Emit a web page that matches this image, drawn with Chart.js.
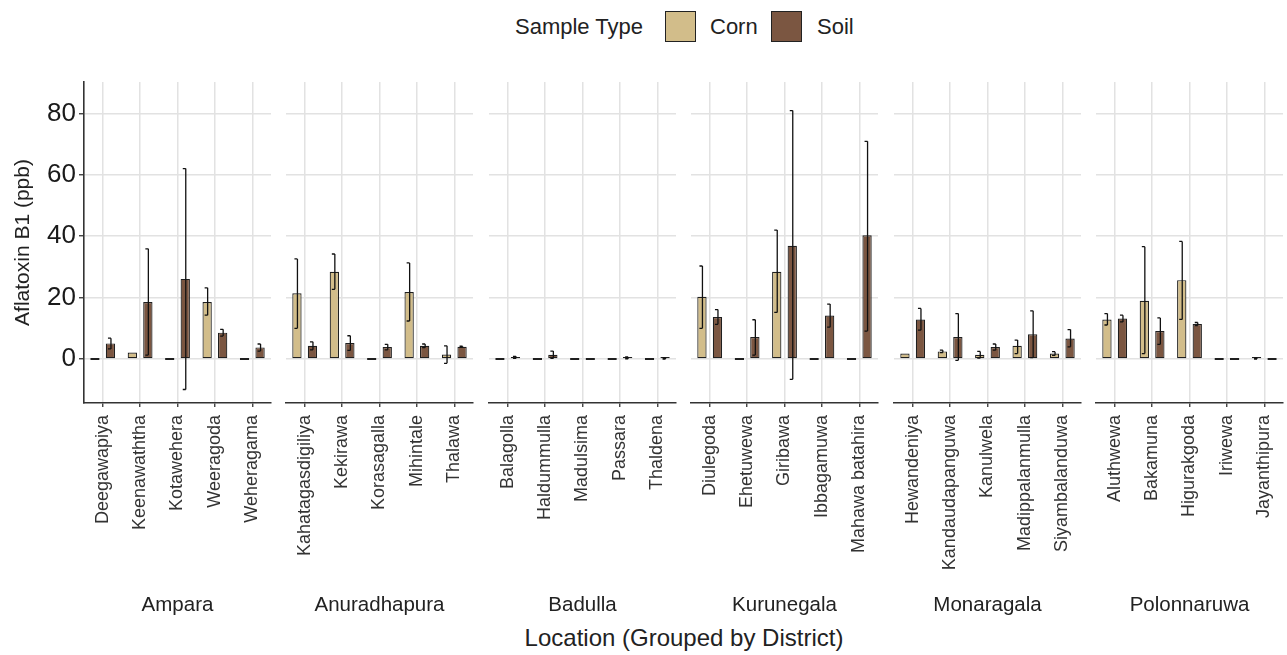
<!DOCTYPE html>
<html>
<head>
<meta charset="utf-8">
<script src="https://cdn.jsdelivr.net/npm/chart.js@4.4.1/dist/chart.umd.min.js"></script>
<style>
  html, body { margin:0; padding:0; background:#fff; }
  body { width:1287px; height:655px; position:relative; overflow:hidden; font-family:"Liberation Sans", Arial, sans-serif; color:#222; }
  .cv { position:absolute; }
  .txt { position:absolute; white-space:nowrap; line-height:1; }
  .box { position:absolute; width:29px; height:29px; border:1.5px solid #222; }
</style>
</head>
<body>
<div class="txt" style="left:515px; top:16px; font-size:22px;">Sample Type</div>
<div class="box" style="left:665px; top:11px; background:#D2BD8A;"></div>
<div class="txt" style="left:710px; top:16px; font-size:22px;">Corn</div>
<div class="box" style="left:771px; top:11px; background:#7B5641;"></div>
<div class="txt" style="left:817px; top:16px; font-size:22px;">Soil</div>
<div class="txt" id="xtitle" style="left:684px; top:626px; font-size:24px; transform:translateX(-50%);">Location (Grouped by District)</div>

<canvas id="c0" class="cv"></canvas>
<canvas id="c1" class="cv"></canvas>
<canvas id="c2" class="cv"></canvas>
<canvas id="c3" class="cv"></canvas>
<canvas id="c4" class="cv"></canvas>
<canvas id="c5" class="cv"></canvas>

<script>
// ---------------- DATA ----------------
const districts = ['Ampara', 'Anuradhapura', 'Badulla', 'Kurunegala', 'Monaragala', 'Polonnaruwa'];
const locations = [
  'Deegawapiya', 'Keenawaththa', 'Kotawehera', 'Weeragoda', 'Weheragama',
  'Kahatagasdigiliya', 'Kekirawa', 'Korasagalla', 'Mihintale', 'Thalawa',
  'Balagolla', 'Haldummulla', 'Madulsima', 'Passara', 'Thaldena',
  'Diulegoda', 'Ehetuwewa', 'Giribawa', 'Ibbagamuwa', 'Mahawa batahira',
  'Hewandeniya', 'Kandaudapanguwa', 'Kanulwela', 'Madippalanmulla', 'Siyambalanduwa',
  'Aluthwewa', 'Bakamuna', 'Higurakgoda', 'Iriwewa', 'Jayanthipura'
];
const cornMean = [0, 2.1, 0, 18.6, 0,  21.4, 28.4, 0, 21.8, 1.5,  0, 0, 0, 0, 0,
  20.3, 0, 28.4, 0, 0,  1.8, 2.5, 1.4, 4.3, 1.8,  12.9, 19.0, 25.7, 0, 0.1];
const cornLow = [null, null, null, 14.3, null,  10.0, 22.7, null, 12.4, -1.4,  null, null, null, null, null,
  10.0, null, 15.2, null, null,  null, 2.1, 0.3, 1.8, 1.2,  11.1, 1.8, 12.9, null, 0];
const cornHigh = [null, null, null, 23.2, null,  32.6, 34.2, null, 31.3, 4.3,  null, null, null, null, null,
  30.3, null, 42.0, null, null,  null, 2.9, 2.5, 6.2, 2.4,  14.8, 36.6, 38.3, null, 0.3];
const soilMean = [5.1, 18.6, 26.1, 8.6, 3.8,  4.3, 5.2, 3.9, 4.3, 4.0,  0.5, 1.4, 0, 0.4, 0.2,
  13.7, 7.2, 36.9, 14.2, 40.3,  12.9, 7.2, 3.9, 8.1, 6.7,  13.2, 9.1, 11.4, 0, 0];
const soilLow = [3.3, 1.3, -9.9, 7.5, 2.6,  3.0, 2.8, 3.0, 3.7, 3.8,  0.2, 0.2, null, 0.1, 0.0,
  11.3, 1.3, -6.6, 10.4, 9.1,  9.4, -0.4, 2.9, 0.5, 4.0,  12.1, 4.8, 10.9, null, null];
const soilHigh = [6.8, 35.9, 62.0, 9.7, 4.9,  5.6, 7.6, 4.8, 4.9, 4.2,  0.9, 2.6, null, 0.7, 0.4,
  16.1, 12.8, 80.9, 17.9, 70.9,  16.5, 14.8, 4.9, 15.7, 9.6,  14.3, 13.4, 11.9, null, null];
const yTicks = [0, 20, 40, 60, 80];
const seriesNames = ['Corn', 'Soil'];

// ---------------- STYLE / LAYOUT ----------------
const FONT = '"Liberation Sans", Arial, sans-serif';
const CORN = '#D2BD8A', SOIL = '#7B5641', EDGE = '#1f1f1f';
const GRID = '#e2e2e2', AXIS = '#333333';
const PANEL_W = 187, PANEL_STEP = 202.4, FIRST_LEFT = 84;
const AREA_TOP = 82, AREA_BOTTOM = 403, CANVAS_TOP = 70, CANVAS_BOTTOM = 625;
const Y_MIN = -14.3, Y_MAX = 90.2;

const errorBars = {
  id: 'errorBars',
  afterDatasetsDraw(chart) {
    const ctx = chart.ctx;
    const y = chart.scales.y;
    ctx.save();
    ctx.strokeStyle = '#111';
    ctx.lineWidth = 1.3;
    chart.data.datasets.forEach((ds, di) => {
      const meta = chart.getDatasetMeta(di);
      meta.data.forEach((el, i) => {
        const lo = ds.errLow[i], hi = ds.errHigh[i];
        if (lo === null || hi === null) return;
        const x = el.x + 0.5;
        const y1 = y.getPixelForValue(lo), y2 = y.getPixelForValue(hi);
        ctx.beginPath();
        ctx.moveTo(x, y1); ctx.lineTo(x, y2);
        ctx.moveTo(x - 3, y1); ctx.lineTo(x, y1);
        ctx.moveTo(x - 3, y2); ctx.lineTo(x, y2);
        ctx.stroke();
      });
    });
    ctx.restore();
  }
};

districts.forEach((d, p) => {
  const idx0 = p * 5;
  const labels = locations.slice(idx0, idx0 + 5);
  const first = p === 0;
  const panelLeft = FIRST_LEFT + p * PANEL_STEP;
  const yW = first ? FIRST_LEFT : 0;
  const padL = first ? 0 : 3, padR = 3;
  const cvLeft = first ? 0 : panelLeft - padL;
  const cvW = (first ? FIRST_LEFT : padL) + PANEL_W + padR;
  const cvH = CANVAS_BOTTOM - CANVAS_TOP;
  const cv = document.getElementById('c' + p);
  cv.style.left = cvLeft + 'px';
  cv.style.top = CANVAS_TOP + 'px';
  cv.style.width = cvW + 'px';
  cv.style.height = cvH + 'px';
  cv.width = cvW; cv.height = cvH;

  new Chart(cv, {
    type: 'bar',
    data: {
      labels: labels,
      datasets: [
        { label: seriesNames[0], data: cornMean.slice(idx0, idx0 + 5),
          errLow: cornLow.slice(idx0, idx0 + 5), errHigh: cornHigh.slice(idx0, idx0 + 5),
          backgroundColor: CORN, borderColor: EDGE, borderWidth: 1.2, borderSkipped: false,
          minBarLength: 2, categoryPercentage: 0.83, barPercentage: 0.6 },
        { label: seriesNames[1], data: soilMean.slice(idx0, idx0 + 5),
          errLow: soilLow.slice(idx0, idx0 + 5), errHigh: soilHigh.slice(idx0, idx0 + 5),
          backgroundColor: SOIL, borderColor: EDGE, borderWidth: 1.2, borderSkipped: false,
          minBarLength: 2, categoryPercentage: 0.83, barPercentage: 0.6 }
      ]
    },
    options: {
      responsive: false,
      animation: false,
      devicePixelRatio: 1,
      layout: { padding: { left: padL, right: padR, top: AREA_TOP - CANVAS_TOP, bottom: 0 } },
      plugins: { legend: { display: false }, tooltip: { enabled: false } },
      scales: {
        x: {
          offset: true,
          grid: { display: true, offset: false, color: GRID, lineWidth: 1.5,
                  drawTicks: true, tickLength: 4, tickColor: AXIS, tickWidth: 1.3 },
          border: { display: true, color: AXIS, width: 1.6 },
          ticks: { autoSkip: false, minRotation: 90, maxRotation: 90, padding: 8,
                   color: '#333', font: { family: FONT, size: 18 } },
          title: { display: true, text: d, color: '#222', font: { family: FONT, size: 20.5 },
                   padding: { top: 0, bottom: 7 } },
          afterFit(s) { s.height = CANVAS_BOTTOM - AREA_BOTTOM; s.paddingLeft = 0; s.paddingRight = 0; }
        },
        y: {
          min: Y_MIN, max: Y_MAX,
          afterBuildTicks(s) { s.ticks = yTicks.map(v => ({ value: v })); },
          grid: { color: GRID, lineWidth: 1.5, drawTicks: first, tickLength: 5, tickColor: AXIS, tickWidth: 1.3 },
          border: { display: first, color: AXIS, width: 1.6 },
          ticks: { display: first, padding: 3, color: '#1a1a1a', font: { family: FONT, size: 26 } },
          title: { display: first, text: 'Aflatoxin B1 (ppb)', color: '#222',
                   font: { family: FONT, size: 21 }, padding: { top: 11, bottom: 0 } },
          afterFit(s) { s.width = yW; s.paddingTop = 0; s.paddingBottom = 0; }
        }
      }
    },
    plugins: [errorBars]
  });
});
</script>
</body>
</html>
